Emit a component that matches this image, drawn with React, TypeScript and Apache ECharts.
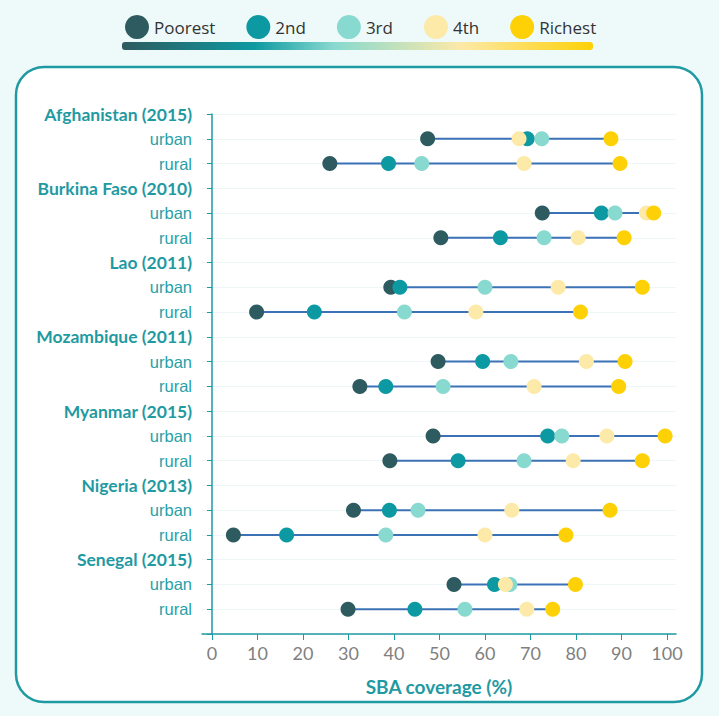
import React, { useEffect, useRef } from "react";
import * as echarts from "echarts";

const countries = [
  "Afghanistan (2015)",
  "Burkina Faso (2010)",
  "Lao (2011)",
  "Mozambique (2011)",
  "Myanmar (2015)",
  "Nigeria (2013)",
  "Senegal (2015)",
];
const areas = ["urban", "rural"];
const quintiles = ["Poorest", "2nd", "3rd", "4th", "Richest"];
const quintileColors = ["#2d5b5f", "#0d99a1", "#88d9cf", "#fde9a8", "#fdd106"];

// order per country: urban, rural
const poorest = [47.4, 25.9, 72.6, 50.3, 39.3, 9.8, 49.7, 32.5, 48.6, 39.1, 31.1, 4.7, 53.2, 29.9];
const second = [69.3, 38.8, 85.6, 63.4, 41.3, 22.5, 59.5, 38.2, 73.8, 54.1, 39.0, 16.4, 62.1, 44.6];
const third = [72.5, 46.1, 88.6, 73.0, 60.0, 42.3, 65.7, 50.8, 76.9, 68.6, 45.3, 38.2, 65.5, 55.6];
const fourth = [67.5, 68.6, 95.5, 80.5, 76.1, 58.0, 82.3, 70.8, 86.8, 79.4, 65.9, 60.0, 64.5, 69.2];
const richest = [87.7, 89.7, 97.1, 90.6, 94.6, 81.0, 90.8, 89.4, 99.6, 94.6, 87.5, 77.8, 79.9, 74.9];

const xTicks = [0, 10, 20, 30, 40, 50, 60, 70, 80, 90, 100];

export default function App() {
  const ref = useRef<HTMLDivElement>(null);
  useEffect(() => {
    if (!ref.current) return;
    const chart = echarts.init(ref.current, null, { renderer: "svg" });

    const cats: string[] = [];
    const isGroup: boolean[] = [];
    const rowIndexOf: number[] = [];
    countries.forEach((c) => {
      cats.push(c);
      isGroup.push(true);
      areas.forEach((a) => {
        rowIndexOf.push(cats.length);
        cats.push(a);
        isGroup.push(false);
      });
    });
    cats.push("");
    isGroup.push(false);

    const allSeries = [poorest, second, third, fourth, richest];
    const rangeData = rowIndexOf.map((row, i) => {
      const vals = allSeries.map((s) => s[i]);
      return [Math.min(...vals), Math.max(...vals), row];
    });

    const teal = "#1f9aa2";

    const option: any = {
      animation: false,
      backgroundColor: "#eefafa",
      textStyle: { fontFamily: "Lato" },
      legend: {
        data: quintiles,
        left: 120,
        top: 10,
        icon: "circle",
        itemWidth: 24,
        itemHeight: 24,
        itemGap: 31,
        selectedMode: false,
        textStyle: { fontSize: 17, color: "#333", fontFamily: "Open Sans" },
      },
      graphic: [
        {
          type: "rect",
          z: -10,
          shape: { x: 16, y: 67, width: 686, height: 635, r: 28 },
          style: { fill: "#ffffff", stroke: teal, lineWidth: 2.5 },
        },
        {
          type: "rect",
          z: -5,
          shape: { x: 122, y: 42, width: 471, height: 8, r: 3 },
          style: {
            fill: new echarts.graphic.LinearGradient(0, 0, 1, 0, [
              { offset: 0, color: "#2d5b5f" },
              { offset: 0.28, color: "#0d99a1" },
              { offset: 0.45, color: "#88d9cf" },
              { offset: 0.72, color: "#fde9a8" },
              { offset: 1, color: "#fdd106" },
            ]),
          },
        },
      ],
      grid: { left: 202, right: 43, top: 114, bottom: 82, containLabel: false },
      xAxis: {
        type: "value",
        min: -2.2,
        max: 102,
        name: "SBA coverage (%)",
        nameLocation: "middle",
        nameGap: 43,
        nameTextStyle: { color: teal, fontSize: 19, fontWeight: "bold", fontFamily: "Lato" },
        axisLine: { show: true, lineStyle: { color: teal, width: 1.5 } },
        axisTick: { show: true, length: 6, customValues: xTicks, lineStyle: { color: teal } },
        axisLabel: {
          customValues: xTicks,
          color: "#808080",
          fontSize: 18,
          margin: 10,
          fontFamily: "Lato",
        },
        splitLine: { show: false },
      },
      yAxis: {
        type: "category",
        data: cats,
        inverse: true,
        boundaryGap: false,
        axisLine: { show: true, lineStyle: { color: teal, width: 1.5 } },
        axisTick: { show: true, length: 5, alignWithLabel: true, lineStyle: { color: teal } },
        axisLabel: {
          interval: 0,
          margin: 10,
          formatter: (v: string, idx: number) =>
            isGroup[idx] ? `{g|${v}}` : `{s|${v}}`,
          rich: {
            g: { color: teal, fontSize: 17.5, fontWeight: "bold", fontFamily: "Lato" },
            s: { color: "#2a9fa7", fontSize: 16.5, fontFamily: "Liberation Sans" },
          },
        },
        splitLine: { show: true, lineStyle: { color: "#eef7f7", width: 1 } },
      },
      series: [
        {
          type: "custom",
          name: "range",
          z: 1,
          encode: { x: [0, 1], y: 2 },
          renderItem: (params: any, api: any) => {
            const p1 = api.coord([api.value(0), api.value(2)]);
            const p2 = api.coord([api.value(1), api.value(2)]);
            return {
              type: "line",
              shape: { x1: p1[0], y1: p1[1], x2: p2[0], y2: p2[1] },
              style: { stroke: "#3b72b6", lineWidth: 2 },
            };
          },
          data: rangeData,
        },
        ...allSeries.map((s, k) => ({
          type: "scatter",
          name: quintiles[k],
          z: 3 + k,
          symbol: "circle",
          symbolSize: 15,
          itemStyle: { color: quintileColors[k], opacity: 1 },
          emphasis: { disabled: true },
          data: s.map((v, i) => [v, rowIndexOf[i]]),
        })),
      ],
    };
    chart.setOption(option);
    return () => chart.dispose();
  }, []);
  return (
    <div
      ref={ref}
      style={{ position: "fixed", left: 0, top: 0, width: 719, height: 716 }}
    />
  );
}
